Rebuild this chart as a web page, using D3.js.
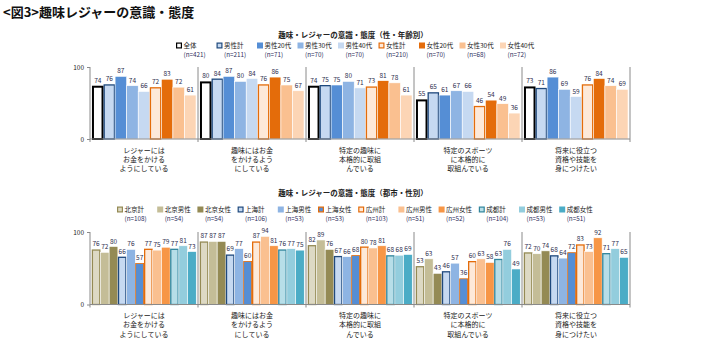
<!DOCTYPE html>
<html>
<head>
<meta charset="utf-8">
<script src="https://cdn.jsdelivr.net/npm/d3@7"></script>
<style>
  body { margin: 0; background: #fff; }
  svg { display: block; font-family: "Noto Sans CJK JP", "Noto Sans", sans-serif; }
</style>
</head>
<body>
<svg id="chart" width="711" height="347"></svg>
<script>
// ---- data ----
const categories = [
  ["レジャーには", "お金をかける", "ようにしている"],
  ["趣味にはお金", "をかけるよう", "にしている"],
  ["特定の趣味に", "本格的に取組", "んでいる"],
  ["特定のスポーツ", "に本格的に", "取組んでいる"],
  ["将来に役立つ", "資格や技能を", "身につけたい"]
];

const ageSeries = ["全体", "男性計", "男性20代", "男性30代", "男性40代", "女性計", "女性20代", "女性30代", "女性40代"];
const ageN = [421, 211, 71, 70, 70, 210, 70, 68, 72];
const ageValues = [
  [74, 80, 74, 55, 73],
  [76, 84, 75, 65, 71],
  [87, 87, 75, 61, 86],
  [74, 80, 80, 67, 69],
  [66, 84, 71, 66, 59],
  [72, 76, 73, 46, 76],
  [83, 86, 81, 54, 84],
  [72, 75, 78, 49, 74],
  [61, 67, 61, 36, 69]
];

const citySeries = ["北京計", "北京男性", "北京女性", "上海計", "上海男性", "上海女性", "広州計", "広州男性", "広州女性", "成都計", "成都男性", "成都女性"];
const cityN = [108, 54, 54, 106, 53, 53, 103, 51, 52, 104, 53, 51];
const cityValues = [
  [76, 87, 82, 53, 72],
  [72, 87, 89, 63, 70],
  [80, 87, 76, 43, 74],
  [66, 69, 67, 46, 68],
  [76, 77, 66, 57, 64],
  [57, 60, 68, 36, 72],
  [77, 87, 80, 60, 83],
  [75, 94, 78, 63, 73],
  [79, 81, 81, 58, 92],
  [77, 76, 68, 63, 71],
  [81, 77, 68, 76, 77],
  [73, 75, 69, 49, 65]
];

const yTicks = [0, 100];

// ---- styles ----
const ageStyles = [
  { fill: "#ffffff", stroke: "#000000", sw: 2 },
  { fill: "#c6d9f1", stroke: "#1f497d", sw: 1.3 },
  { fill: "#558ed5" },
  { fill: "#8eb4e3" },
  { fill: "#c6d9f1" },
  { fill: "#fde9d9", stroke: "#e46c0a", sw: 1.3 },
  { fill: "#e46c0a" },
  { fill: "#fac090" },
  { fill: "#fcd5b5" }
];
const cityStyles = [
  { fill: "#ddd9c4", stroke: "#948a54", sw: 1.3 },
  { fill: "#c4bd97" },
  { fill: "#948a54" },
  { fill: "#c6d9f1", stroke: "#1f497d", sw: 1.3 },
  { fill: "#8eb4e3" },
  { fill: "#558ed5", stroke: "#e46c0a", sw: 0.8 },
  { fill: "#fde9d9", stroke: "#e46c0a", sw: 1.3 },
  { fill: "#fac090" },
  { fill: "#f79646" },
  { fill: "#b7dee8", stroke: "#31859c", sw: 1.3 },
  { fill: "#93cddd" },
  { fill: "#4bacc6" }
];

const svg = d3.select("#chart");
const labelColor = "#2e2e4e";
const axisColor = "#8a8a8a";

svg.append("text")
  .attr("x", 3).attr("y", 17)
  .attr("font-size", 13).attr("font-weight", "bold").attr("fill", "#111")
  .text("<図3>趣味レジャーの意識・態度");

function drawPanel(cfg) {
  const g = svg.append("g");

  // heading
  g.append("text")
    .attr("x", 353).attr("y", cfg.titleY)
    .attr("text-anchor", "middle")
    .attr("font-size", 7.5).attr("font-weight", "bold").attr("fill", "#222")
    .text(cfg.title);

  // legend
  const leg = g.selectAll("g.leg").data(cfg.series).join("g")
    .attr("transform", (d, i) => `translate(${cfg.legendX + i * cfg.legendStep},${cfg.legendY})`);
  leg.append("rect")
    .attr("x", (d, i) => cfg.styles[i].stroke ? 0.6 : 0)
    .attr("y", (d, i) => cfg.styles[i].stroke ? 0.6 : 0)
    .attr("width", (d, i) => cfg.styles[i].stroke ? 4.8 : 6)
    .attr("height", (d, i) => cfg.styles[i].stroke ? 4.8 : 6)
    .attr("fill", (d, i) => cfg.styles[i].fill)
    .attr("stroke", (d, i) => cfg.styles[i].stroke || "none")
    .attr("stroke-width", (d, i) => cfg.styles[i].stroke ? 1.2 : 0);
  leg.append("text")
    .attr("x", 7.5).attr("y", 5.6)
    .attr("font-size", 6.5).attr("fill", "#222")
    .text(d => d);
  leg.append("text")
    .attr("x", 7.5).attr("y", 14)
    .attr("font-size", 6.3).attr("fill", "#2e2e5e")
    .text((d, i) => `(n=${cfg.n[i]})`);

  // scales
  const x0 = d3.scaleBand().domain(d3.range(categories.length)).range([90, 630]);
  const x1 = d3.scaleBand().domain(d3.range(cfg.series.length))
    .range([0, x0.bandwidth()]).paddingOuter(cfg.outerPad);
  const y = d3.scaleLinear().domain([0, 100]).range([cfg.y0, cfg.y100]);

  // bars
  const groups = g.selectAll("g.grp").data(categories).join("g")
    .attr("transform", (d, ci) => `translate(${x0(ci)},0)`);
  groups.each(function (cat, ci) {
    const gg = d3.select(this);
    cfg.series.forEach((s, si) => {
      const v = cfg.values[si][ci];
      const st = cfg.styles[si];
      const bx = x1(si), bw = x1.bandwidth();
      if (st.stroke) {
        const h = st.sw / 2;
        gg.append("rect")
          .attr("x", bx + h).attr("y", y(v) + h)
          .attr("width", bw - st.sw).attr("height", y(0) - y(v) - h)
          .attr("fill", st.fill).attr("stroke", st.stroke).attr("stroke-width", st.sw);
      } else {
        gg.append("rect")
          .attr("x", bx).attr("y", y(v))
          .attr("width", bw).attr("height", y(0) - y(v))
          .attr("fill", st.fill).attr("stroke", "#ffffff").attr("stroke-width", 0.6);
      }
      gg.append("text")
        .attr("x", bx + bw / 2).attr("y", y(v) - 3)
        .attr("text-anchor", "middle")
        .attr("font-size", 6.5).attr("fill", labelColor)
        .text(v);
    });
    // category label
    gg.append("text")
      .attr("x", x0.bandwidth() / 2)
      .attr("text-anchor", "middle")
      .attr("font-size", 7).attr("fill", "#222")
      .selectAll("tspan").data(cat).join("tspan")
      .attr("x", x0.bandwidth() / 2)
      .attr("y", (d, li) => cfg.y0 + 13.5 + li * 9.4)
      .text(d => d);
  });

  // axes
  const ya = g.append("g").attr("transform", "translate(90,0)")
    .call(d3.axisLeft(y).tickValues(yTicks).tickSize(3).tickPadding(3));
  ya.select(".domain").remove();
  ya.selectAll("line").attr("stroke", axisColor);
  ya.selectAll("text").attr("font-size", 6.5).attr("fill", "#222")
    .attr("font-family", "'Noto Sans CJK JP', sans-serif");

  // baseline and group separators
  g.append("line")
    .attr("x1", 90).attr("x2", 630).attr("y1", y(0)).attr("y2", y(0))
    .attr("stroke", axisColor).attr("stroke-width", 1);
  const bounds = [90].concat(d3.range(categories.length).map(ci => x0(ci) + x0.bandwidth()));
  g.selectAll("line.sep").data(bounds).join("line")
    .attr("x1", d => d).attr("x2", d => d)
    .attr("y1", y(100)).attr("y2", y(0) + 3)
    .attr("stroke", axisColor).attr("stroke-width", 1);
}

drawPanel({
  title: "趣味・レジャーの意識・態度（性・年齢別）",
  titleY: 37.5,
  series: ageSeries, n: ageN, values: ageValues, styles: ageStyles,
  legendX: 176, legendStep: 40.5, legendY: 42.5,
  y0: 139, y100: 67, outerPad: 0.17
});

drawPanel({
  title: "趣味・レジャーの意識・態度（都市・性別）",
  titleY: 196,
  series: citySeries, n: cityN, values: cityValues, styles: cityStyles,
  legendX: 117, legendStep: 40.2, legendY: 206.5,
  y0: 304.5, y100: 232, outerPad: 0.2
});
</script>
</body>
</html>
